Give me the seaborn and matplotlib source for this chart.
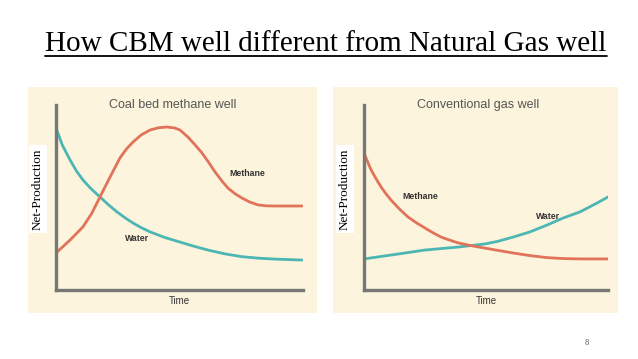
import numpy as np
import pandas as pd
import seaborn as sns
import matplotlib.pyplot as plt
from matplotlib.patches import Rectangle
from matplotlib.lines import Line2D

# 左图：煤层气井 (time 0-10, production 0-10)
cbm_water_t = [0, 0.25, 0.57, 0.82, 1.09, 1.42, 1.78, 2.12, 2.47, 2.80, 3.12, 3.45, 3.81,
               4.40, 5.02, 5.60, 6.15, 6.85, 7.53, 8.20, 8.87, 9.96]
cbm_water_v = [8.76, 7.85, 7.03, 6.45, 5.95, 5.47, 5.03, 4.61, 4.22, 3.90, 3.62, 3.37, 3.14,
               2.84, 2.59, 2.36, 2.16, 1.95, 1.80, 1.72, 1.67, 1.62]
cbm_methane_t = [0, 0.57, 1.09, 1.45, 1.78, 2.19, 2.59, 2.85, 3.12, 3.45, 3.81, 4.15, 4.49,
                 4.80, 5.02, 5.34, 5.62, 5.91, 6.18, 6.44, 6.70, 6.96, 7.25, 7.53, 7.85,
                 8.18, 8.50, 8.87, 9.96]
cbm_methane_v = [2.0, 2.70, 3.41, 4.15, 5.03, 6.11, 7.14, 7.62, 8.0, 8.38, 8.65, 8.77, 8.81,
                 8.76, 8.65, 8.27, 7.86, 7.41, 6.90, 6.38, 5.92, 5.51, 5.20, 4.97, 4.75,
                 4.60, 4.55, 4.54, 4.54]

# 右图：常规气井
gas_methane_t = [0, 0.15, 0.29, 0.50, 0.70, 0.90, 1.11, 1.45, 1.80, 2.15, 2.50, 2.83, 3.16,
                 3.50, 3.85, 4.30, 4.80, 5.45, 6.11, 6.80, 7.50, 8.15, 8.85, 10]
gas_methane_v = [7.41, 6.92, 6.49, 6.00, 5.57, 5.20, 4.86, 4.38, 3.95, 3.63, 3.35, 3.09,
                 2.86, 2.70, 2.55, 2.42, 2.30, 2.15, 2.0, 1.86, 1.75, 1.70, 1.68, 1.68]
gas_water_t = [0, 1.11, 2.50, 3.85, 4.96, 5.45, 6.11, 6.80, 7.50, 8.16, 8.85, 9.55, 10]
gas_water_v = [1.68, 1.89, 2.16, 2.32, 2.49, 2.62, 2.86, 3.14, 3.51, 3.89, 4.22, 4.70, 5.03]

panel_titles = ["Coal bed methane well", "Conventional gas well"]
main_title = "How CBM well different from Natural Gas well"

CREAM = "#fcf4dc"
TEAL = "#4cb6b4"
RED = "#e0735a"
AXIS = "#777777"


def to_df(t, v):
    return pd.DataFrame({"t": t, "v": v})


def draw_panel(ax, water, methane, title, title_x, m_lab, w_lab):
    sns.lineplot(data=to_df(*water), x="t", y="v", ax=ax, color=TEAL, lw=2.0,
                 sort=False, estimator=None)
    sns.lineplot(data=to_df(*methane), x="t", y="v", ax=ax, color=RED, lw=2.0,
                 sort=False, estimator=None)
    ax.set_xlim(0, 10)
    ax.set_ylim(0, 10)
    ax.set_facecolor("none")
    sns.despine(ax=ax)
    for s in ["left", "bottom"]:
        ax.spines[s].set_color(AXIS)
        ax.spines[s].set_linewidth(2.4)
    ax.set_xticks([])
    ax.set_yticks([])
    ax.set_xlabel("Time", fontsize=7, color="#333333", labelpad=4)
    ax.set_ylabel("")
    ax.text(title_x, 10, title, ha="center", va="center", fontsize=9, color="#555555")
    ax.text(m_lab[0], m_lab[1], "Methane", ha="center", va="center", fontsize=6.3,
            color="#333333", weight="bold")
    ax.text(w_lab[0], w_lab[1], "Water", ha="center", va="center", fontsize=6.3,
            color="#333333", weight="bold")


def main():
    sns.set_style("white")
    plt.rcParams["font.family"] = ["Liberation Sans", "DejaVu Sans"]
    W, H = 638, 359
    fig = plt.figure(figsize=(W / 100, H / 100), dpi=100)
    fig.patch.set_facecolor("white")

    def px(x0, y0, x1, y1):
        return [x0 / W, 1 - y1 / H, (x1 - x0) / W, (y1 - y0) / H]

    # cream background of both pictures
    for r in [px(28, 87, 317, 313), px(333, 87, 618, 313)]:
        fig.add_artist(Rectangle((r[0], r[1]), r[2], r[3], transform=fig.transFigure,
                                 facecolor=CREAM, edgecolor="none", zorder=0))

    ax1 = fig.add_axes(px(56, 105, 303, 290))
    ax2 = fig.add_axes(px(364, 105, 608, 290))
    draw_panel(ax1, (cbm_water_t, cbm_water_v), (cbm_methane_t, cbm_methane_v),
               panel_titles[0], 4.74, (7.73, 6.32), (3.28, 2.81))
    draw_panel(ax2, (gas_water_t, gas_water_v), (gas_methane_t, gas_methane_v),
               panel_titles[1], 4.67, (2.30, 5.03), (7.54, 3.95))

    # y labels in white boxes
    for xc in [38 / W, 345 / W]:
        fig.text(xc, 1 - 189 / H, "Net-Production", rotation=90, ha="center", va="center",
                 fontsize=9.5, family=["Liberation Serif", "DejaVu Serif"], color="black",
                 bbox=dict(facecolor="white", edgecolor="none", pad=2))

    t = fig.text(326 / W, 1 - 51 / H, main_title, ha="center", va="baseline",
                 fontsize=21, family=["Liberation Serif", "DejaVu Serif"], color="black")
    fig.canvas.draw()
    bb = t.get_window_extent()
    yl = 1 - 56 / H
    fig.add_artist(Line2D([bb.x0 / W, bb.x1 / W], [yl, yl], transform=fig.transFigure,
                          color="black", lw=1.3))

    fig.text(587 / W, 1 - 343 / H, "8", ha="center", va="center", fontsize=6,
             family=["Liberation Serif", "DejaVu Serif"], color="#555555")

    fig.savefig("out.png", dpi=100)


if __name__ == '__main__':
    main()
